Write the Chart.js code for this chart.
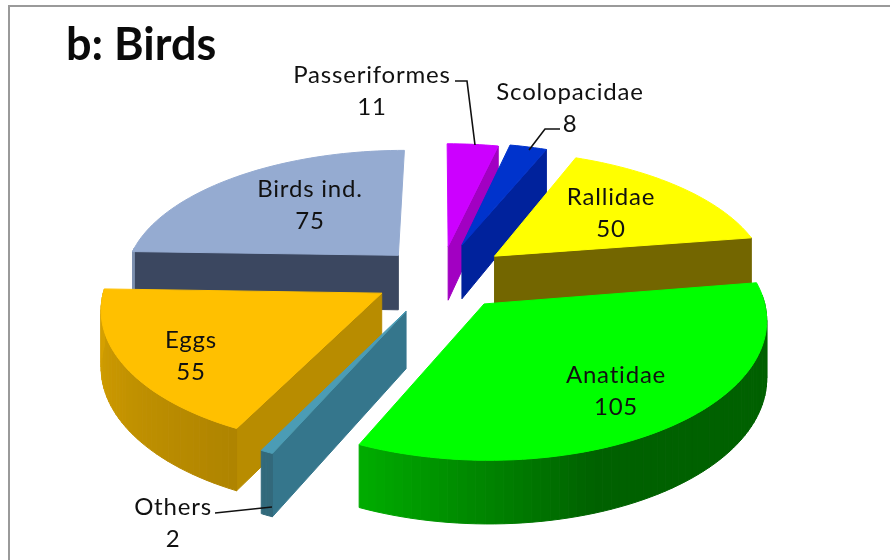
<!DOCTYPE html>
<html>
<head>
<meta charset="utf-8">
<style>
html,body{margin:0;padding:0;background:#fff;overflow:hidden;width:890px;height:560px}
#wrap{position:absolute;left:0;top:0;width:890px;height:560px}
#frame{position:absolute;left:8px;top:5px;width:900px;height:600px;border:2px solid #9a9a9a;box-sizing:border-box}
canvas{position:absolute;left:0;top:0}
</style>
<script src="https://cdn.jsdelivr.net/npm/chart.js@4"></script>
</head>
<body>
<div id="wrap"><div id="frame"></div><canvas id="c" width="890" height="560"></canvas></div>
<script>
const categories = ["Passeriformes","Scolopacidae","Rallidae","Anatidae","Others","Eggs","Birds ind."];
const values = [11,8,50,105,2,55,75];
const topColors = ["#cc00ff","#0033cc","#ffff00","#00ff00","#4b9cb5","#ffc000","#95abd1"];
const sideColors = ["#a200c2","#00229c","#736600","#006400","#35768c","#b88c00","#3b4760"];
const explode = [66,72,70,70,78,68,63];
const paintOrder = [0,1,6,2,5,3,4];
const labelAnchors = [[372,75],[570,92],[611,197],[616,375],[173,507],[191,340],[310,189]];
const labelGap = 32;
const leaders = [[[455,81],[467,81],[475,145]],[[560,129],[545,129],[529,150]],[[215,513],[272,507]]];

const view = {cx:441, cy:276, R:275, tiltBack:0.47, tiltFront:0.49, perspBack:0.17, perspFront:0.10, depth:56};

function project(X, Y, Z){
  const back = Y > 0;
  const s = 1/(1 + (back?view.perspBack:view.perspFront)*Y/view.R);
  return [view.cx + s*X, view.cy - s*Y*(back?view.tiltBack:view.tiltFront) + s*Z];
}
function shadeAt(th){
  const d = th*180/Math.PI;
  const stops = [[90,.38],[160,.38],[205,.68],[270,.84]];
  if (d<=stops[0][0]) return stops[0][1];
  for (let i=1;i<stops.length;i++){
    if (d<=stops[i][0]){
      const a=stops[i-1], b=stops[i];
      return a[1]+(b[1]-a[1])*(d-a[0])/(b[0]-a[0]);
    }
  }
  return .84;
}
function mult(hex,k){
  const n=parseInt(hex.slice(1),16);
  const r=(n>>16)&255,g=(n>>8)&255,b=n&255;
  return `rgb(${Math.round(r*k)},${Math.round(g*k)},${Math.round(b*k)})`;
}
function poly(ctx,pts,fill){
  ctx.beginPath();
  pts.forEach((p,i)=> i?ctx.lineTo(p[0],p[1]):ctx.moveTo(p[0],p[1]));
  ctx.closePath();
  ctx.fillStyle=fill; ctx.strokeStyle=fill; ctx.lineWidth=1;
  ctx.fill(); ctx.stroke();
}
const pie3d = {
  id:'pie3d',
  beforeDatasetsDraw(chart){
    const ctx = chart.ctx;
    const arcs = chart.getDatasetMeta(0).data;
    ctx.save();
    paintOrder.forEach(i=>{
      const arc = arcs[i];
      const a0 = arc.startAngle + Math.PI/2, a1 = arc.endAngle + Math.PI/2;
      const mid = (a0+a1)/2, e = arc.options.offset;
      const ox = e*Math.sin(mid), oy = e*Math.cos(mid);
      const P = (th,r,z)=>project(ox+r*Math.sin(th), oy+r*Math.cos(th), z);
      const D = view.depth, R = view.R;
      if (Math.sin(a0) < -0.001) poly(ctx,[P(a0,0,0),P(a0,R,0),P(a0,R,D),P(a0,0,D)],sideColors[i]);
      if (Math.sin(a1) > 0.001) poly(ctx,[P(a1,0,0),P(a1,R,0),P(a1,R,D),P(a1,0,D)],sideColors[i]);
      const n = Math.max(4,Math.ceil((a1-a0)/0.03));
      for (let k=0;k<n;k++){
        const t0=a0+(a1-a0)*k/n, t1=a0+(a1-a0)*(k+1)/n;
        if (Math.cos((t0+t1)/2) < 0.05)
          poly(ctx,[P(t0,R,0),P(t1,R,0),P(t1,R,D),P(t0,R,D)],mult(topColors[i],shadeAt((t0+t1)/2)));
      }
      const top=[P(a0,0,0)];
      for (let k=0;k<=n;k++) top.push(P(a0+(a1-a0)*k/n,R,0));
      poly(ctx,top,topColors[i]);
    });
    ctx.restore();
    return false;
  },
  afterDraw(chart){
    const ctx = chart.ctx;
    ctx.save();
    ctx.strokeStyle="#111"; ctx.lineWidth=1.6;
    leaders.forEach(l=>{
      ctx.beginPath();
      l.forEach((p,i)=> i?ctx.lineTo(p[0],p[1]):ctx.moveTo(p[0],p[1]));
      ctx.stroke();
    });
    ctx.fillStyle="#111";
    ctx.font='24px Lato';
    ctx.letterSpacing='0.8px';
    ctx.textAlign='center'; ctx.textBaseline='middle';
    categories.forEach((c,i)=>{
      const [x,y]=labelAnchors[i];
      ctx.fillText(c,x,y);
      ctx.fillText(String(values[i]),x,y+labelGap);
    });
    ctx.restore();
  }
};

new Chart(document.getElementById('c'),{
  type:'pie',
  data:{labels:categories,datasets:[{data:values,backgroundColor:topColors,offset:explode,borderWidth:0}]},
  plugins:[pie3d],
  options:{
    responsive:false,
    animation:false,
    rotation:0,
    layout:{padding:{left:66,top:0}},
    plugins:{
      legend:{display:false},
      tooltip:{enabled:false},
      title:{display:true,text:"b: Birds",align:'start',color:'#0a0a0a',
        font:{family:'Lato',size:45,weight:'bold'},padding:{top:18,bottom:10}}
    }
  }
});
</script>
</body>
</html>
